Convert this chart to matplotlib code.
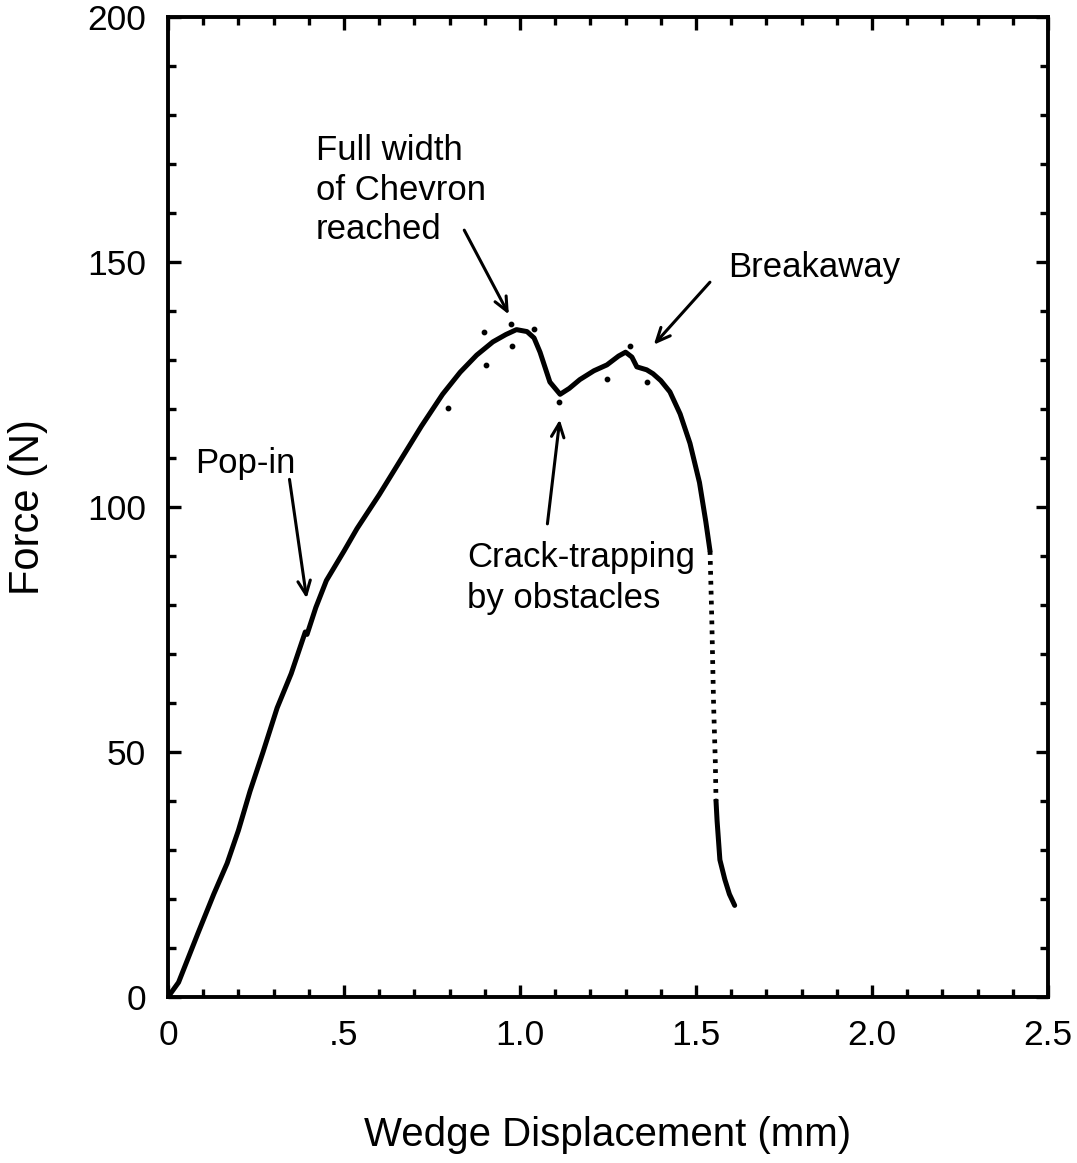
import matplotlib
matplotlib.use("Agg")
import matplotlib.pyplot as plt
from matplotlib.ticker import MultipleLocator, FixedLocator

plt.rcParams['font.family'] = ['Liberation Sans', 'DejaVu Sans']

# Main loading curve up to pop-in
disp_a = [0, 0.03, 0.085, 0.13, 0.168, 0.2, 0.233, 0.27, 0.31, 0.35, 0.39]
force_a = [0, 3, 13, 21, 27.3, 34, 42, 50, 59, 66, 74.5]
# After pop-in to start of rapid drop
disp_b = [0.395, 0.42, 0.45, 0.50, 0.537, 0.6, 0.66, 0.72, 0.78, 0.83, 0.877, 0.923,
          0.96, 0.99, 1.02, 1.04, 1.057, 1.085, 1.114, 1.14, 1.17, 1.21, 1.247, 1.28,
          1.30, 1.318, 1.332, 1.36, 1.378, 1.40, 1.426, 1.455, 1.483, 1.51, 1.528, 1.54]
force_b = [74.0, 79.5, 85, 91, 95.6, 102.5, 109.5, 116.5, 123, 127.5, 131, 133.7,
           135.2, 136.2, 135.8, 134.5, 131.6, 125.5, 123, 124.2, 126, 127.8, 129, 130.8,
           131.6, 130.6, 128.6, 128, 127.2, 125.8, 123.5, 119, 113, 105, 97, 91]
# Rapid drop (sparse, dotted record)
disp_c = [1.54, 1.545, 1.55, 1.555, 1.557]
force_c = [91, 77, 60, 48, 40]
# Tail (solid)
disp_d = [1.557, 1.56, 1.568, 1.582, 1.595, 1.61]
force_d = [40, 36, 28, 24, 21, 18.7]
# Stray data points
stray_x = [0.898, 0.974, 1.04, 0.977, 0.903, 0.795, 1.111, 1.247, 1.312, 1.36]
stray_y = [135.7, 137.3, 136.3, 132.9, 129.0, 120.2, 121.5, 126.1, 132.9, 125.5]

xticks = [0, 0.5, 1.0, 1.5, 2.0, 2.5]
xticklabels = ["0", ".5", "1.0", "1.5", "2.0", "2.5"]
yticks = [0, 50, 100, 150, 200]
yticklabels = ["0", "50", "100", "150", "200"]

fig = plt.figure(figsize=(10.77, 11.63), dpi=100)
ax = fig.add_axes([0.156, 0.1427, 0.817, 0.8427])

lw = 3.6
ax.plot(disp_a, force_a, color='black', lw=lw, solid_capstyle='round', solid_joinstyle='round')
ax.plot(disp_b, force_b, color='black', lw=lw, solid_capstyle='round', solid_joinstyle='round')
ax.plot(disp_c, force_c, color='black', lw=3.4, linestyle=(0, (0.8, 1.3)))
ax.plot(disp_d, force_d, color='black', lw=lw, solid_capstyle='round', solid_joinstyle='round')
ax.scatter(stray_x, stray_y, s=10, color='black', zorder=3)

ax.set_xlim(0, 2.5)
ax.set_ylim(0, 200)
ax.xaxis.set_major_locator(FixedLocator(xticks))
ax.set_xticklabels(xticklabels)
ax.yaxis.set_major_locator(FixedLocator(yticks))
ax.set_yticklabels(yticklabels)
ax.xaxis.set_minor_locator(MultipleLocator(0.1))
ax.yaxis.set_minor_locator(MultipleLocator(10))
ax.tick_params(which='both', direction='in', top=True, right=True, width=2.4, labelsize=25.5)
ax.tick_params(which='major', length=9)
ax.tick_params(which='minor', length=6)
ax.tick_params(axis='x', pad=16)
ax.tick_params(axis='y', pad=16)
for s in ax.spines.values():
    s.set_linewidth(2.8)

ax.set_xlabel("Wedge Displacement (mm)", fontsize=29, labelpad=46)
ax.set_ylabel("Force (N)", fontsize=30, labelpad=28)

arrowprops = dict(arrowstyle='->,head_length=1.0,head_width=0.45', color='black', lw=2.2)
fs = 25
ax.annotate("Pop-in", xy=(0.395, 80.8), xytext=(0.219, 108.8), fontsize=fs,
            ha='center', va='center')
ax.annotate("", xy=(0.395, 80.8), xytext=(0.344, 106.2), arrowprops=arrowprops)

ax.text(0.42, 164.6, "Full width\nof Chevron\nreached", fontsize=fs, ha='left', va='center',
        linespacing=1.25)
ax.annotate("", xy=(0.972, 138.8), xytext=(0.838, 157.0), arrowprops=arrowprops)

ax.text(1.59, 148.9, "Breakaway", fontsize=fs, ha='left', va='center')
ax.annotate("", xy=(1.375, 132.7), xytext=(1.545, 146.3), arrowprops=arrowprops)

ax.text(0.85, 85.5, "Crack-trapping\nby obstacles", fontsize=fs, ha='left', va='center',
        linespacing=1.3)
ax.annotate("", xy=(1.114, 118.4), xytext=(1.077, 96.0), arrowprops=arrowprops)

fig.savefig("out.png", dpi=100)
